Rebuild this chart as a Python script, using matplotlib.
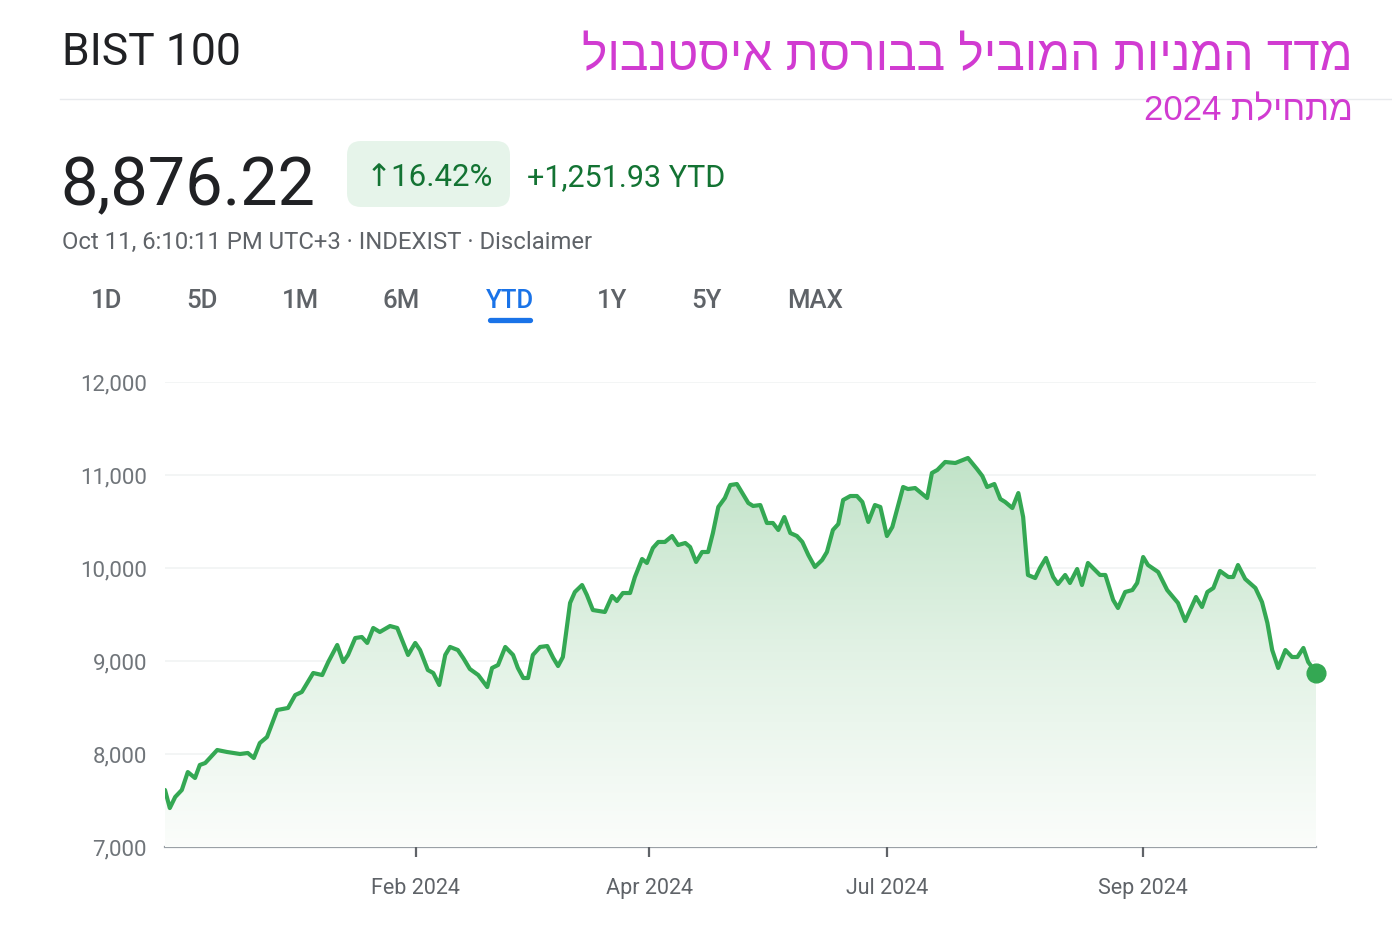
import numpy as np
import matplotlib
matplotlib.use('Agg')
import matplotlib.pyplot as plt
from matplotlib.patches import FancyBboxPatch, Polygon
from matplotlib.lines import Line2D
from matplotlib.colors import LinearSegmentedColormap

plt.rcParams['font.family'] = ['Roboto', 'DejaVu Sans']

# --- data: BIST 100 YTD, sessions since Jan 2 2024 ---
sessions = [0.0, 0.8, 1.7, 2.8, 3.8, 5.0, 5.8, 6.7, 8.7, 10.3, 12.5, 13.8, 14.8, 15.8, 17.0,
            18.7, 20.5, 21.7, 22.8, 24.7, 26.2, 27.2, 28.7, 29.7, 30.5, 31.7, 32.8, 33.7,
            34.7, 35.8, 37.5, 38.7, 40.5, 41.7, 42.5, 43.8, 44.7, 45.7, 46.7, 47.5, 48.8,
            49.7, 50.8, 52.2, 53.7, 54.5, 55.5, 56.7, 58.0, 58.8, 59.7, 60.5, 61.3, 62.5,
            63.7, 64.7, 65.5, 66.3, 67.5, 68.3, 69.5, 70.3, 71.3, 73.3, 74.5, 75.3, 76.3,
            77.5, 78.3, 79.5, 80.3, 81.3, 82.2, 83.3, 84.5, 85.5, 86.7, 87.5, 88.5, 89.5,
            90.5, 91.3, 92.2, 93.3, 94.2, 95.3, 96.2, 97.2, 98.0, 99.2, 100.3, 101.3, 102.2,
            103.2, 104.2, 105.3, 106.2, 107.2, 108.3, 109.5, 110.3, 111.3, 112.2, 113.0,
            114.2, 115.3, 116.2, 117.2, 118.3, 119.2, 120.3, 121.2, 123.0, 123.8, 125.0,
            127.0, 127.8, 128.7, 130.0, 131.7, 133.8, 135.3, 136.2, 137.0, 138.2, 139.2,
            140.0, 141.2, 142.2, 143.0, 143.8, 145.0, 145.8, 146.8, 148.0, 148.8, 150.0,
            150.8, 152.0, 152.8, 153.8, 155.8, 156.7, 158.0, 158.8, 160.0, 161.2, 162.0,
            163.0, 163.8, 165.5, 167.0, 168.8, 170.0, 171.2, 171.8, 172.8, 173.7, 174.7,
            175.8, 177.2, 178.0, 178.8, 180.0, 181.7, 182.8, 183.7, 184.5, 185.5, 186.7,
            187.8, 188.7, 189.7, 190.5, 191.8]
values = [7613, 7419, 7538, 7613, 7806, 7742, 7882, 7903, 8043, 8022, 8000, 8011, 7957, 8118, 8183,
          8473, 8495, 8634, 8667, 8871, 8849, 8989, 9172, 8989, 9065, 9247, 9258, 9194,
          9355, 9312, 9376, 9355, 9065, 9194, 9118, 8903, 8871, 8742, 9065, 9151, 9118,
          9032, 8914, 8849, 8720, 8925, 8957, 9151, 9065, 8925, 8817, 8817, 9065, 9151,
          9161, 9032, 8946, 9043, 9624, 9742, 9817, 9710, 9548, 9527, 9699, 9645, 9731,
          9731, 9903, 10097, 10054, 10215, 10280, 10280, 10344, 10247, 10269, 10226, 10065, 10172,
          10172, 10376, 10656, 10753, 10892, 10903, 10806, 10699, 10667, 10677, 10484, 10484, 10409,
          10548, 10376, 10344, 10280, 10140, 10011, 10086, 10172, 10409, 10473, 10731,
          10774, 10774, 10710, 10495, 10677, 10656, 10344, 10441, 10871, 10849, 10860,
          10753, 11022, 11054, 11140, 11129, 11183, 11065, 10989, 10871, 10903, 10742,
          10710, 10645, 10806, 10548, 9925, 9892, 10000, 10108, 9903, 9828, 9925,
          9839, 9989, 9817, 10054, 9925, 9925, 9656, 9570, 9742, 9763, 9839,
          10118, 10032, 9957, 9763, 9624, 9430, 9602, 9688, 9581, 9742, 9785,
          9968, 9903, 9903, 10032, 9882, 9785, 9634, 9409, 9118, 8925, 9118,
          9043, 9043, 9140, 8989, 8876.22]

tick_pos = [41.8, 80.7, 120.3, 163.0]
tick_labels = ['Feb 2024', 'Apr 2024', 'Jul 2024', 'Sep 2024']
y_ticks = [7000, 8000, 9000, 10000, 11000, 12000]
ranges = ['1D', '5D', '1M', '6M', 'YTD', '1Y', '5Y', 'MAX']
range_x = [107, 202, 300, 401, 510, 612, 706, 815]

title_he = 'מדד המניות המוביל בבורסת איסטנבול'
sub_he = 'מתחילת 2024'

GREEN = '#34a853'
W, H = 1392, 950


def visual(s):
    # matplotlib has no bidi: put hebrew words in visual order
    out = []
    for w in reversed(s.split(' ')):
        if any('\u0590' <= c <= '\u05ff' for c in w):
            out.append(w[::-1])
        else:
            out.append(w)
    return ' '.join(out)


fig = plt.figure(figsize=(W / 100, H / 100), dpi=100)
P = fig.dpi_scale_trans


def at(x, y):
    return x / 100, (H - y) / 100


# --- header ---
fig.text(*at(62, 65), 'BIST 100', transform=P, fontsize=32, color='#202124', va='baseline')
fig.add_artist(Line2D([0.6, W / 100], [(H - 99) / 100] * 2, transform=P, color='#e8eaed', lw=1))
fig.text(*at(1353, 70), visual(title_he), transform=P, ha='right', va='baseline',
         fontsize=34.5, color='#d13bd1', family=['Liberation Sans', 'DejaVu Sans'])
fig.text(*at(1353, 120), visual(sub_he), transform=P, ha='right', va='baseline',
         fontsize=25, color='#d13bd1', family=['Liberation Sans', 'DejaVu Sans'])

fig.text(*at(60, 205), '8,876.22', transform=P, fontsize=48, color='#202124', va='baseline')
pill = FancyBboxPatch(at(347, 207), 1.63, 0.66, transform=P,
                      boxstyle='round,pad=0,rounding_size=0.14', fc='#e6f4ea', ec='none')
fig.add_artist(pill)
fig.text(*at(366, 186), '↑16.42%', transform=P, fontsize=22.5, color='#137333', va='baseline',
         family=['Roboto', 'DejaVu Sans'])
fig.text(*at(527, 186), '+1,251.93 YTD', transform=P, fontsize=22, color='#137333', va='baseline')
fig.text(*at(62, 249), 'Oct 11, 6:10:11 PM UTC+3 · INDEXIST · Disclaimer', transform=P,
         fontsize=17.2, color='#5f6368', va='baseline')

for lab, x in zip(ranges, range_x):
    c = '#1a73e8' if lab == 'YTD' else '#5f6368'
    fig.text(*at(x, 308), lab, transform=P, fontsize=18.5, color=c, ha='center',
             va='baseline', fontweight='medium')
fig.add_artist(Line2D([4.90, 5.30], [(H - 320) / 100] * 2, transform=P, color='#1a73e8',
                      lw=3.8, solid_capstyle='round'))

# --- chart ---
ax = fig.add_axes([165 / W, 1 - 847 / H, 1151 / W, 465 / H])
ax.set_xlim(0, sessions[-1])
ax.set_ylim(7000, 12000)
for s in ax.spines.values():
    s.set_visible(False)

for y in y_ticks[1:]:
    ax.axhline(y, color='#f1f3f4', lw=1.2, zorder=0)
ax.axhline(7000, color='#9aa0a6', lw=1.6, zorder=1, clip_on=False)

t = np.array(sessions)
v = np.array(values)
verts = [(t[0], 7000)] + list(zip(t, v)) + [(t[-1], 7000)]
poly = Polygon(verts, closed=True, fc='none', ec='none')
ax.add_patch(poly)
cmap = LinearSegmentedColormap.from_list('g', ['#fbfdfb', '#e2f2e5', '#c1e3c8'])
grad = np.linspace(0, 1, 256).reshape(-1, 1)
im = ax.imshow(grad, extent=[t[0], t[-1], 7000, v.max()], origin='lower', aspect='auto',
               cmap=cmap, zorder=1)
im.set_clip_path(poly)

ax.plot(t, v, color=GREEN, lw=3.0, solid_joinstyle='round', solid_capstyle='round', zorder=3)
ax.plot(t[-1], v[-1], 'o', ms=13.5, color=GREEN, zorder=4, clip_on=False)

ax.set_xticks(tick_pos, tick_labels)
ax.set_yticks(y_ticks, [f'{y:,}' for y in y_ticks])
ax.tick_params(axis='x', direction='out', length=7, width=1.6, color='#5f6368',
               labelsize=15.5, labelcolor='#5f6368', pad=15)
ax.tick_params(axis='y', length=0, labelsize=16, labelcolor='#70757a', pad=13)

fig.savefig('out.png', dpi=100, facecolor='white')
